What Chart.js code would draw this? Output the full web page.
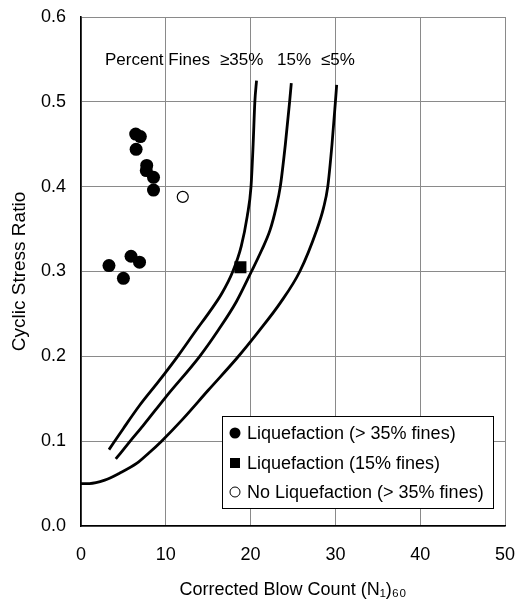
<!DOCTYPE html>
<html>
<head>
<meta charset="utf-8">
<script src="https://cdn.jsdelivr.net/npm/chart.js@4.4.0/dist/chart.umd.min.js"></script>
<style>
  body { margin: 0; background: #fff; }
</style>
</head>
<body>
<canvas id="liqChart" width="515" height="602"></canvas>
<script>
    // field points
    let liqFinesX = [3.3, 5.0, 5.9, 6.9, 6.45, 7.0, 6.5, 7.75, 7.7, 8.55, 8.55];
    let liqFinesY = [0.307, 0.292, 0.318, 0.311, 0.462, 0.459, 0.444, 0.425, 0.419, 0.411, 0.396];
    let liq15X = [18.8];
    let liq15Y = [0.305];
    let noLiqX = [12.0];
    let noLiqY = [0.388];

    // boundary curves for the three fines contents
    let curve35X = [3.3, 5.0, 6.9, 9.2, 11.4, 13.6, 15.2, 16.6, 17.9, 18.9, 19.6, 20.05, 20.3, 20.5, 20.7];
    let curve35Y = [0.090, 0.115, 0.142, 0.171, 0.200, 0.231, 0.253, 0.274, 0.300, 0.330, 0.365, 0.400, 0.450, 0.500, 0.525];
    let curve15X = [4.1, 5.8, 7.3, 10.0, 14.0, 16.2, 18.3, 20.1, 21.3, 22.3, 23.0, 23.5, 24.1, 24.6, 24.8];
    let curve15Y = [0.079, 0.100, 0.118, 0.152, 0.200, 0.231, 0.264, 0.300, 0.325, 0.349, 0.375, 0.400, 0.450, 0.500, 0.522];
    let curve5X = [0, 1.0, 2.8, 4.5, 6.6, 8.0, 9.5, 12.0, 15.0, 18.4, 21.0, 23.5, 25.8, 27.8, 28.6, 29.1, 29.6, 30.0, 30.15];
    let curve5Y = [0.050, 0.050, 0.054, 0.062, 0.074, 0.086, 0.100, 0.126, 0.160, 0.198, 0.230, 0.263, 0.300, 0.349, 0.375, 0.400, 0.450, 0.500, 0.520];

    let xTicks = [0, 10, 20, 30, 40, 50];
    let yTicks = [0.0, 0.1, 0.2, 0.3, 0.4, 0.5, 0.6];
    let curveLabels = ["\u226535%", "15%", "\u22645%"];
    let legendLabels = ["Liquefaction (> 35% fines)", "Liquefaction (15% fines)", "No Liquefaction (> 35% fines)"];

    const FONT = '"Liberation Sans", Arial, sans-serif';

    function toPoints(xs, ys) {
        return xs.map((x, i) => ({x: x, y: ys[i]}));
    }

    function curve(xs, ys) {
        return {
            type: 'line',
            data: toPoints(xs, ys),
            borderColor: '#000',
            borderWidth: 2.8,
            pointRadius: 0,
            fill: false,
            cubicInterpolationMode: 'monotone'
        };
    }

    // "Percent Fines" note and the boxed legend
    const notes = {
        id: 'notes',
        afterDatasetsDraw(chart) {
            const ctx = chart.ctx;
            const a = chart.chartArea;
            ctx.save();
            ctx.fillStyle = '#000';
            ctx.textBaseline = 'middle';
            ctx.font = '17px ' + FONT;
            ctx.textAlign = 'left';
            ctx.fillText('Percent Fines', a.left + 24, 60);
            ctx.fillText(curveLabels[0], a.left + 139, 60);
            ctx.fillText(curveLabels[1], a.left + 196, 60);
            ctx.fillText(curveLabels[2], a.left + 240, 60);

            // legend box
            const bx = a.left + 141, by = 416, bw = 271, bh = 92;
            ctx.fillStyle = '#fff';
            ctx.fillRect(bx, by, bw, bh);
            ctx.strokeStyle = '#000';
            ctx.lineWidth = 1;
            ctx.strokeRect(bx + 0.5, by + 0.5, bw, bh);

            const rows = [433, 463, 492];
            const mx = bx + 13;
            ctx.font = '18px ' + FONT;
            rows.forEach((ry, i) => {
                ctx.fillStyle = '#000';
                ctx.beginPath();
                if (i === 0) {
                    ctx.arc(mx, ry, 5.5, 0, Math.PI * 2);
                    ctx.fill();
                } else if (i === 1) {
                    ctx.fillRect(mx - 5, ry - 5, 10, 10);
                } else {
                    ctx.arc(mx, ry, 5, 0, Math.PI * 2);
                    ctx.fillStyle = '#fff';
                    ctx.fill();
                    ctx.stroke();
                }
                ctx.fillStyle = '#000';
                ctx.fillText(legendLabels[i], bx + 25, ry + 1);
            });
            ctx.restore();
        }
    };

    new Chart('liqChart', {
        type: 'scatter',
        data: {
            datasets: [
                curve(curve35X, curve35Y),
                curve(curve15X, curve15Y),
                curve(curve5X, curve5Y),
                {
                    label: legendLabels[0],
                    data: toPoints(liqFinesX, liqFinesY),
                    pointStyle: 'circle',
                    pointRadius: 6.5,
                    backgroundColor: '#000',
                    borderColor: '#000',
                    borderWidth: 0
                },
                {
                    label: legendLabels[1],
                    data: toPoints(liq15X, liq15Y),
                    pointStyle: 'rect',
                    pointRadius: 8.5,
                    backgroundColor: '#000',
                    borderColor: '#000',
                    borderWidth: 0
                },
                {
                    label: legendLabels[2],
                    data: toPoints(noLiqX, noLiqY),
                    pointStyle: 'circle',
                    pointRadius: 5.5,
                    backgroundColor: '#fff',
                    borderColor: '#000',
                    borderWidth: 1.2
                }
            ]
        },
        options: {
            responsive: false,
            animation: false,
            layout: {padding: {top: 17, right: 10, left: 0, bottom: 0}},
            plugins: {
                legend: {display: false},
                tooltip: {enabled: false}
            },
            scales: {
                x: {
                    type: 'linear',
                    min: xTicks[0],
                    max: xTicks[xTicks.length - 1],
                    afterBuildTicks: (s) => { s.ticks = xTicks.map(v => ({value: v})); },
                    afterFit: (s) => { s.height = 76; s.paddingLeft = 0; s.paddingRight = 0; },
                    grid: {color: '#8a8a8a', lineWidth: 1, drawTicks: false},
                    border: {color: '#000', width: 1.6},
                    ticks: {color: '#000', font: {size: 18, family: FONT}, padding: 18, maxRotation: 0},
                    title: {
                        display: true,
                        text: 'Corrected Blow Count (N\u2081)\u2086\u2080',
                        color: '#000',
                        font: {size: 18, family: FONT},
                        padding: {top: 0, bottom: 1}
                    }
                },
                y: {
                    type: 'linear',
                    min: yTicks[0],
                    max: yTicks[yTicks.length - 1],
                    afterBuildTicks: (s) => { s.ticks = yTicks.map(v => ({value: v})); },
                    afterFit: (s) => { s.width = 81; s.paddingTop = 0; s.paddingBottom = 0; },
                    grid: {color: '#8a8a8a', lineWidth: 1, drawTicks: false},
                    border: {color: '#000', width: 1.6},
                    ticks: {color: '#000', font: {size: 18, family: FONT}, padding: 15,
                        callback: (v) => Number(v).toFixed(1)},
                    title: {
                        display: true,
                        text: 'Cyclic Stress Ratio',
                        color: '#000',
                        font: {size: 19, family: FONT},
                        padding: {top: 8, bottom: 0}
                    }
                }
            }
        },
        plugins: [notes]
    });
</script>
</body>
</html>
